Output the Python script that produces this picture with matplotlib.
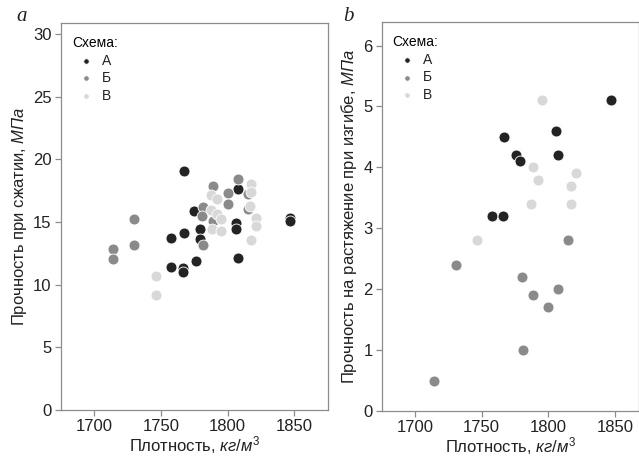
import matplotlib.pyplot as plt

plt.rcParams['font.family'] = ['Liberation Sans Narrow', 'Liberation Sans', 'DejaVu Sans']
plt.rcParams['mathtext.fontset'] = 'custom'
plt.rcParams['mathtext.rm'] = 'Liberation Sans'
plt.rcParams['mathtext.it'] = 'Liberation Sans:italic'

###########################
# data
###########################

schemes = ['А', 'Б', 'В']
colors = {'А': '#232323', 'Б': '#8a8a8a', 'В': '#d8d8d8'}

# panel a: compressive strength
a_dens_A = [1767.5, 1808, 1775, 1847, 1847, 1806.5, 1806.5, 1779.5, 1767.5, 1757.5, 1779.5, 1808, 1776, 1757.5, 1766.5, 1766.5]
a_str_A = [19.1, 17.65, 15.85, 15.35, 15.1, 14.9, 14.45, 14.4, 14.1, 13.7, 13.6, 12.15, 11.9, 11.4, 11.3, 11.0]
a_dens_B = [1807.8, 1789, 1800, 1815.5, 1800, 1781.5, 1815.5, 1780.5, 1789, 1730, 1730, 1781.5, 1714.5, 1714.5]
a_str_B = [18.4, 17.9, 17.3, 17.2, 16.45, 16.2, 16.05, 15.45, 15.05, 15.25, 13.15, 13.15, 12.85, 12.05]
a_dens_V = [1817.8, 1817.8, 1787.5, 1792, 1817, 1787.5, 1792, 1821.5, 1795.3, 1821.5, 1788.5, 1795.3, 1817.5, 1746.5, 1746.5]
a_str_V = [18.05, 17.35, 17.15, 16.8, 16.25, 15.95, 15.6, 15.35, 15.25, 14.7, 14.45, 14.3, 13.55, 10.7, 9.2]

# panel b: flexural tensile strength
b_dens_A = [1847, 1767, 1806, 1775.5, 1779, 1807.5, 1757.5, 1766]
b_str_A = [5.1, 4.5, 4.6, 4.2, 4.1, 4.2, 3.2, 3.2]
b_dens_B = [1815, 1730.5, 1780, 1788.5, 1807.5, 1799.5, 1781, 1714.5]
b_str_B = [2.8, 2.4, 2.2, 1.9, 2.0, 1.7, 1.0, 0.5]
b_dens_V = [1795, 1788.5, 1792, 1820.5, 1817, 1817, 1787, 1746.5]
b_str_V = [5.1, 4.0, 3.8, 3.9, 3.7, 3.4, 3.4, 2.8]

panel_a = {'А': (a_dens_A, a_str_A), 'Б': (a_dens_B, a_str_B), 'В': (a_dens_V, a_str_V)}
panel_b = {'А': (b_dens_A, b_str_A), 'Б': (b_dens_B, b_str_B), 'В': (b_dens_V, b_str_V)}

fig = plt.figure(figsize=(6.39, 4.59), dpi=100)
ax_a = fig.add_axes([0.095, 0.1068, 0.418, 0.844])
ax_b = fig.add_axes([0.5973, 0.1046, 0.4027, 0.848])

spine_c = '#8c8c8c'

def draw(ax, data, ylim, yticks, ylabel, xlim):
    for s in schemes:
        x, y = data[s]
        ax.scatter(x, y, s=62, color=colors[s], edgecolors='white', linewidths=0.6, label=s, zorder=3)
    ax.set_xlim(*xlim)
    ax.set_ylim(*ylim)
    ax.set_xticks([1700, 1750, 1800, 1850])
    ax.set_yticks(yticks)
    for sp in ax.spines.values():
        sp.set_color(spine_c)
        sp.set_linewidth(0.9)
    ax.tick_params(colors=spine_c, labelcolor='#222222', labelsize=12, length=4, width=0.9, pad=2.5)
    ax.set_xlabel(r'Плотность, $кг/м^3$', fontsize=12, color='#222222', labelpad=0)
    ax.set_ylabel(ylabel, fontsize=12, color='#222222', labelpad=3)
    leg = ax.legend(title='Схема:', loc='upper left', frameon=False, markerscale=0.5,
                    fontsize=10, title_fontsize=10, handletextpad=0.2, labelspacing=0.25,
                    borderaxespad=0.3, alignment='left', bbox_to_anchor=(0.005, 0.99))
    for t in leg.get_texts():
        t.set_color('#222222')

draw(ax_a, panel_a, (0, 30.9), [0, 5, 10, 15, 20, 25, 30],
     r'Прочность при сжатии, $МПа$', (1675, 1875))
draw(ax_b, panel_b, (0, 6.39), [0, 1, 2, 3, 4, 5, 6],
     r'Прочность на растяжение при изгибе, $МПа$', (1675, 1868))

fig.text(0.026, 0.955, 'a', family='Liberation Serif', style='italic', fontsize=15, color='#222222')
fig.text(0.537, 0.955, 'b', family='Liberation Serif', style='italic', fontsize=15, color='#222222')

fig.savefig('out.png', dpi=100)
